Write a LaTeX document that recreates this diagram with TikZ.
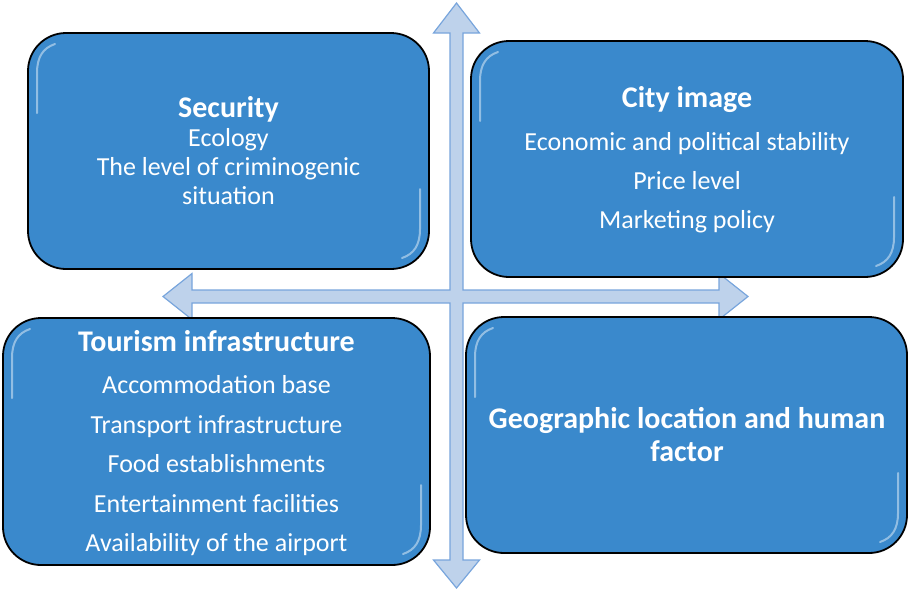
\documentclass[tikz,border=0pt]{standalone}
\usepackage{fontspec}
\setmainfont{Carlito}
\definecolor{boxblue}{RGB}{58,137,204}
\definecolor{arrowfill}{RGB}{190,210,235}
\definecolor{arrowline}{RGB}{120,165,220}
\newcommand\panelglints[4]{%
  \draw[glint] (#1+9,#2+80) -- (#1+9,#2+40) .. controls (#1+9,#2+24) and (#1+15,#2+15) .. (#1+27,#2+11);
  \draw[glint] (#3-9,#4-80) -- (#3-9,#4-40) .. controls (#3-9,#4-24) and (#3-15,#4-15) .. (#3-27,#4-11);}
\begin{document}
\begin{tikzpicture}[x=1pt,y=-1pt,
  panel/.style={draw=black, line width=1.8pt, fill=boxblue, rounded corners=38pt,
    text=white, align=center, inner sep=0pt},
  glint/.style={draw=white, line width=2pt, line cap=round, opacity=0.45},
  paneltext/.style={text=white, align=center, inner sep=0pt},
  quadarrow/.style={fill=arrowfill, draw=arrowline, line width=1.2pt, line join=miter}]
\useasboundingbox (0,0) rectangle (909,590);
% quad arrow (behind the panels)
\draw[quadarrow]
  (456.5,3) -- (479.5,33) -- (463,33) -- (463,290) -- (719,290) -- (719,273.5)
  -- (748,296.5) -- (719,319.5) -- (719,303) -- (463,303) -- (463,560)
  -- (479.5,560) -- (456.5,588) -- (433.5,560) -- (450,560) -- (450,303)
  -- (192,303) -- (192,319.5) -- (163,296.5) -- (192,273.5) -- (192,290)
  -- (450,290) -- (450,33) -- (433.5,33) -- cycle;
% panels
\node[panel, minimum width=401pt, minimum height=236pt] (tl) at (228.5,151) {};
\node[panel, minimum width=432pt, minimum height=236pt] (tr) at (687,159) {};
\node[panel, minimum width=427pt, minimum height=247pt] (bl) at (216.5,441.5) {};
\node[panel, minimum width=441pt, minimum height=236pt] (br) at (686.5,435) {};
\panelglints{28}{33}{429}{269}
\panelglints{471}{41}{903}{277}
\panelglints{3}{318}{430}{565}
\panelglints{466}{317}{907}{553}
% texts
\node[paneltext, font=\fontsize{26}{29}\selectfont] (tltxt) at (228.5,151)
  {{\bfseries\fontsize{30}{31}\selectfont Security}\\Ecology\\The level of criminogenic\\situation};
\node[paneltext, font=\fontsize{26}{39}\selectfont] (trtxt) at (687,160)
  {{\bfseries\fontsize{30}{31}\selectfont City image}\\[4pt]Economic and political stability\\Price level\\Marketing policy};
\node[paneltext, font=\fontsize{26}{39.5}\selectfont] (bltxt) at (216.5,443)
  {{\bfseries\fontsize{30}{31}\selectfont Tourism infrastructure}\\[3pt]Accommodation base\\Transport infrastructure\\Food establishments\\Entertainment facilities\\Availability of the airport};
\node[paneltext, font=\bfseries\fontsize{30}{33}\selectfont] (brtxt) at (687,435)
  {Geographic location and human\\factor};
\end{tikzpicture}
\end{document}
